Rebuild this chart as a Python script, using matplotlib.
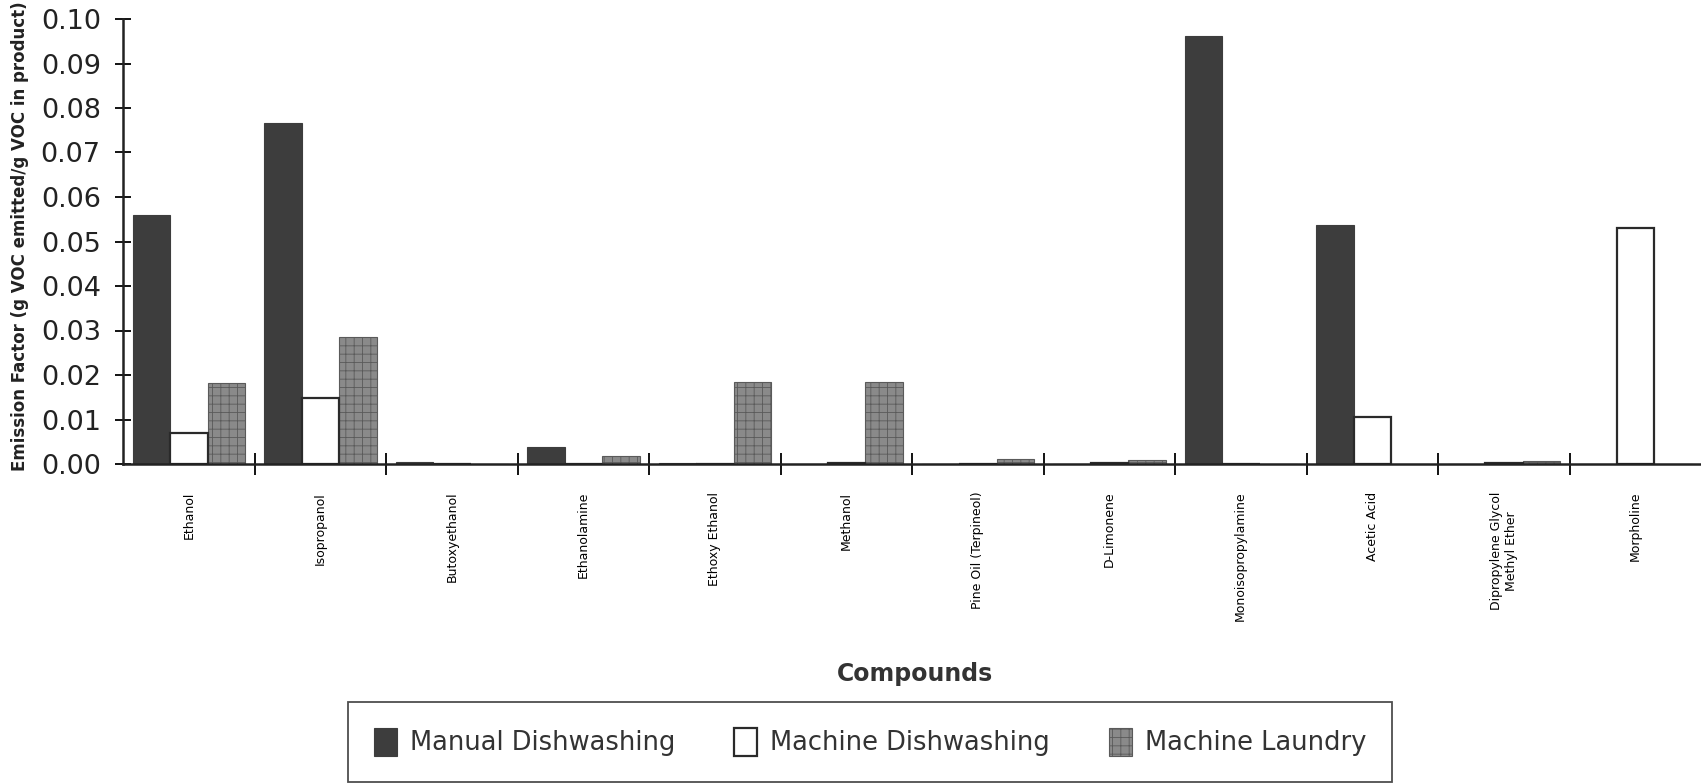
import matplotlib
matplotlib.use("Agg")
import matplotlib.pyplot as plt
import numpy as np

plt.rcParams['font.family'] = ['DejaVu Sans']
plt.rcParams['hatch.linewidth'] = 0.6

compounds = ["Ethanol", "Isopropanol", "Butoxyethanol", "Ethanolamine", "Ethoxy Ethanol",
             "Methanol", "Pine Oil (Terpineol)", "D-Limonene", "Monoisopropylamine",
             "Acetic Acid", "Dipropylene Glycol\nMethyl Ether", "Morpholine"]
manual_dish = [0.0560, 0.0766, 0.0004, 0.0038, 0.0002, 0.0, 0.0, 0.0, 0.0961, 0.0537, 0.0, 0.0]
machine_dish = [0.0070, 0.0148, 0.0, 0.0, 0.0, 0.0002, 0.0, 0.0003, 0.0, 0.0106, 0.0002, 0.0530]
machine_laundry = [0.0182, 0.0286, 0.0, 0.0019, 0.0185, 0.0185, 0.0011, 0.0010, 0.0, 0.0, 0.0006, 0.0]
series_names = ["Manual Dishwashing", "Machine Dishwashing", "Machine Laundry"]
y_ticks = [0.00, 0.01, 0.02, 0.03, 0.04, 0.05, 0.06, 0.07, 0.08, 0.09, 0.10]

W, H = 1701, 783
fig = plt.figure(figsize=(W / 100, H / 100), dpi=100)
ax = fig.add_axes([123 / W, 1 - 464 / H, 1 - 123 / W, (464 - 19) / H])

x = np.arange(len(compounds))
bw = 0.285
start = 0.076
ax.bar(x + start, manual_dish, width=bw, align='edge', color='#3d3d3d',
       edgecolor='#3d3d3d', linewidth=0.8, label=series_names[0], zorder=2)
ax.bar(x + start + bw, machine_dish, width=bw, align='edge', color='white',
       edgecolor='#2a2a2a', linewidth=1.6, label=series_names[1], zorder=3)
ax.bar(x + start + 2 * bw, machine_laundry, width=bw, align='edge', color='#8a8a8a',
       edgecolor='#5a5a5a', linewidth=0.8, hatch='++', label=series_names[2], zorder=2)

ax.set_xlim(0, len(compounds))
ax.set_ylim(0, 0.10)
ax.set_yticks(y_ticks)
ax.set_yticklabels([f"{v:.2f}" for v in y_ticks], fontsize=19.5, color='#222222')
ax.tick_params(axis='y', direction='inout', length=12, width=1.3, pad=10)

ax.set_xticks(x + 0.5)
ax.set_xticklabels(compounds, rotation=90, fontsize=9, va='top', ha='center',
                   multialignment='center')
ax.tick_params(axis='x', which='major', length=0, pad=20)
ax.set_xticks(np.arange(1, len(compounds)), minor=True)
ax.tick_params(axis='x', which='minor', direction='inout', length=16, width=1.3)

for s in ['top', 'right']:
    ax.spines[s].set_visible(False)
for s in ['left', 'bottom']:
    ax.spines[s].set_linewidth(1.8)
    ax.spines[s].set_color('#222222')
    ax.spines[s].set_zorder(4)

fig.text(20 / W, 1 - 236 / H, "Emission Factor (g VOC emitted/g VOC in product)",
         rotation=90, fontsize=12, fontweight='bold', ha='center', va='center',
         color='#222222')
fig.text(915 / W, 1 - 674 / H, "Compounds", fontsize=17, fontweight='bold',
         ha='center', va='center', color='#333333')

leg = fig.legend(loc='center', bbox_to_anchor=(870 / W, 1 - 742 / H), ncol=3,
                 fontsize=18.5, frameon=True, fancybox=False, edgecolor='#222222',
                 handlelength=0.9, handleheight=1.3, handletextpad=0.5,
                 columnspacing=2.3, borderpad=1.0, borderaxespad=0)
leg.get_frame().set_linewidth(1.3)
for t in leg.get_texts():
    t.set_color('#333333')

fig.savefig("out.png", dpi=100, facecolor='white')
